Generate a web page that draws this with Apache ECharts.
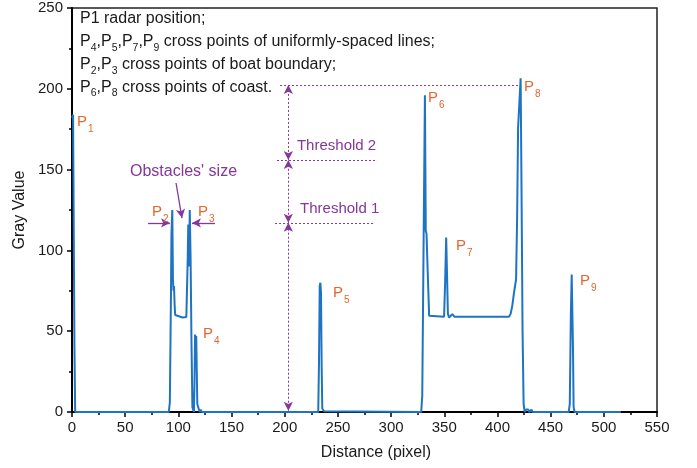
<!DOCTYPE html>
<html>
<head>
<meta charset="utf-8">
<script src="https://cdn.jsdelivr.net/npm/echarts@6/dist/echarts.min.js"></script>
<style>
html, body { margin: 0; padding: 0; background: #fff; }
#chart { width: 697px; height: 468px; }
</style>
</head>
<body>
<div id="chart"></div>
<script>
// Gray-value profile along the scan line (distance in pixels)
const distance = [
  0, 1, 2.3, 3,
  91, 92, 93, 93.5, 94.3, 94.9, 95.4, 95.9, 96.5, 97, 98, 104, 107.5, 108.3, 108.8, 109.3, 109.6, 110.2, 110.7, 111.5, 112.3, 113.2,
  114.6, 115.2, 115.7, 116.2, 116.8, 117.8, 120, 121, 122,
  231.5, 232.2, 232.9, 233.5, 234.1, 234.7, 235.3, 236.3, 237, 238,
  328.3, 329.3, 330.5, 331.8, 332.6, 333.3, 334.2, 335, 335.8, 337,
  349.8, 350.8, 351.8, 352.6, 353.4, 354.4, 355.6, 357.6, 359.5,
  411, 412.5, 414, 415.6, 417.5, 418.5, 419.4, 420.5, 421.8, 422.6, 423.6, 424.6, 425.6,
  427, 428, 429, 430, 431, 432, 433,
  467, 468, 469, 469.8, 470.4, 471, 471.6, 472.6,
  516
];
const gray = [
  182, 184, 40, 0,
  0, 6, 70, 110, 125, 82, 75, 78, 66, 60, 59, 58.5, 58.8, 60, 95, 116, 112, 90, 125, 95, 45, 3,
  0, 20, 48, 42, 47, 5, 0, 1.5, 0,
  0, 30, 78, 80, 74, 30, 2, 1.5, 0.5, 0,
  0, 10, 100, 196, 112, 110.5, 110, 75, 59.5, 59,
  59, 80, 108, 85, 61, 58.5, 57.8, 60.5, 59,
  59, 61, 66, 74, 82, 120, 176, 190, 206.5, 140, 50, 5, 0,
  1.5, 0.5, 1.5, 0, 1, 1.5, 0,
  0, 5, 60, 85, 84, 40, 3, 0,
  0
];

// Axis ranges and ticks
const xTicks = { min: 0, max: 550, step: 50 };
const yTicks = { min: 0, max: 250, step: 50 };

// Peak labels: name subscript and label anchor [distance, gray]
const peakNames = ['1', '2', '3', '4', '5', '6', '7', '8', '9'];
const peakLabelAt = [
  [4.7, 184], [75.2, 128.7], [118.5, 128.7], [123.2, 53.2], [245.4, 78.6],
  [334.7, 199.3], [361, 107.7], [425, 206], [477.6, 86]
];

// Threshold guide geometry (data units)
const guideX = 203.4;
const coastLevel = 202.4;
const threshold2 = 156;
const threshold1 = 117.1;

const orange = '#e4662f';
const purple = '#85379a';
const ink = '#1a1a1a';

const points = distance.map((d, i) => [d, gray[i]]);

const chart = echarts.init(document.getElementById('chart'), null, { renderer: 'canvas' });

const dotted = { color: purple, width: 1, type: [2, 2] };
const plain = (a, b) => [{ coord: a, symbol: 'none' }, { coord: b, symbol: 'none' }];
const twoWay = (a, b) => [{ coord: a, symbol: 'arrow' }, { coord: b, symbol: 'arrow' }];
const oneWay = (a, b, extra) => [Object.assign({ coord: a, symbol: 'none' }, extra || {}), { coord: b, symbol: 'arrow' }];

chart.setOption({
  animation: false,
  backgroundColor: '#fff',
  grid: {
    left: 72, right: 40, top: 8, bottom: 56,
    show: true, borderColor: '#222', borderWidth: 1.5, backgroundColor: 'transparent'
  },
  xAxis: {
    type: 'value', min: xTicks.min, max: xTicks.max, interval: xTicks.step,
    axisLine: { lineStyle: { color: '#000', width: 2 } },
    axisTick: { length: 5, lineStyle: { color: '#000', width: 1.5 } },
    minorTick: { show: true, splitNumber: 2, length: 3, lineStyle: { color: '#000', width: 1.5 } },
    splitLine: { show: false },
    axisLabel: { color: ink, fontSize: 15, fontFamily: 'Liberation Sans, Arial', margin: 8 }
  },
  yAxis: {
    type: 'value', min: yTicks.min, max: yTicks.max, interval: yTicks.step,
    axisLine: { show: true, lineStyle: { color: '#000', width: 2 } },
    axisTick: { show: true, length: 5, lineStyle: { color: '#000', width: 1.5 } },
    minorTick: { show: true, splitNumber: 2, length: 3, lineStyle: { color: '#000', width: 1.5 } },
    splitLine: { show: false },
    axisLabel: { color: ink, fontSize: 15, fontFamily: 'Liberation Sans, Arial', margin: 9 }
  },
  series: [{
    type: 'line',
    data: points,
    showSymbol: false,
    lineStyle: { color: '#1f73c3', width: 2 },
    z: 3,
    markLine: {
      silent: true,
      symbolSize: [7, 9],
      label: { show: false },
      lineStyle: dotted,
      data: [
        plain([guideX - 7.8, coastLevel], [419.3, coastLevel]),
        plain([192.7, threshold2], [286.8, threshold2]),
        plain([190.9, threshold1], [284.9, threshold1]),
        twoWay([guideX, 0.8], [guideX, threshold1]),
        twoWay([guideX, threshold1], [guideX, threshold2]),
        twoWay([guideX, threshold2], [guideX, coastLevel]),
        oneWay([71.5, 117], [92.1, 117], { lineStyle: { type: 'solid', width: 1.3, color: purple } }),
        oneWay([134.4, 117], [112.8, 117], { lineStyle: { type: 'solid', width: 1.3, color: purple } }),
        oneWay([97.8, 141.7], [103.4, 120], { lineStyle: { type: 'solid', width: 1.3, color: purple, curveness: 0.25 } })
      ]
    }
  }]
});

// Text overlays placed through the grid's coordinate system
const toPx = p => chart.convertToPixel({ gridIndex: 0 }, p);
const graphics = [];

peakNames.forEach((n, i) => {
  const [x, y] = toPx(peakLabelAt[i]);
  graphics.push({
    type: 'text', x: x, y: y, z: 20,
    style: {
      text: '{p|P}{s|' + n + '}',
      rich: {
        p: { fontSize: 15, fill: orange, fontFamily: 'Liberation Sans, Arial', verticalAlign: 'bottom', padding: [0, 0, 5, 0] },
        s: { fontSize: 10, fill: orange, fontFamily: 'Liberation Sans, Arial', verticalAlign: 'bottom', padding: [0, 0, 0, 1] }
      }
    }
  });
});

const noteRich = {
  a: { fontSize: 16, fill: ink, fontFamily: 'Liberation Sans, Arial', verticalAlign: 'bottom', padding: [0, 0, 4, 0] },
  b: { fontSize: 10.5, fill: ink, fontFamily: 'Liberation Sans, Arial', verticalAlign: 'bottom' }
};
const noteLines = [
  '{a|P1 radar position;}',
  '{a|P}{b|4}{a|,P}{b|5}{a|,P}{b|7}{a|,P}{b|9}{a| cross points of uniformly-spaced lines;}',
  '{a|P}{b|2}{a|,P}{b|3}{a| cross points of boat boundary;}',
  '{a|P}{b|6}{a|,P}{b|8}{a| cross points of coast.}'
];
noteLines.forEach((t, i) => {
  graphics.push({ type: 'text', x: 80, y: 11 + i * 22.7, z: 20, style: { text: t, rich: noteRich } });
});

const purpleText = (text, at, size) => {
  const [x, y] = toPx(at);
  graphics.push({
    type: 'text', x: x, y: y, z: 20,
    style: { text: text, fill: purple, fontSize: size, fontFamily: 'Liberation Sans, Arial', verticalAlign: 'middle' }
  });
};
purpleText("Obstacles' size", [54.5, 148.5], 16);
purpleText('Threshold 2', [211.5, 164.6], 15);
purpleText('Threshold 1', [214.4, 125.6], 15);

graphics.push({
  type: 'text', x: 376, y: 453, z: 20,
  style: { text: 'Distance (pixel)', fill: ink, fontSize: 16, fontFamily: 'Liberation Sans, Arial', align: 'center', verticalAlign: 'middle' }
});
graphics.push({
  type: 'text', x: 20, y: 210, rotation: Math.PI / 2, z: 20,
  style: { text: 'Gray Value', fill: ink, fontSize: 16, fontFamily: 'Liberation Sans, Arial', align: 'center', verticalAlign: 'middle' }
});

chart.setOption({ graphic: graphics });
</script>
</body>
</html>
